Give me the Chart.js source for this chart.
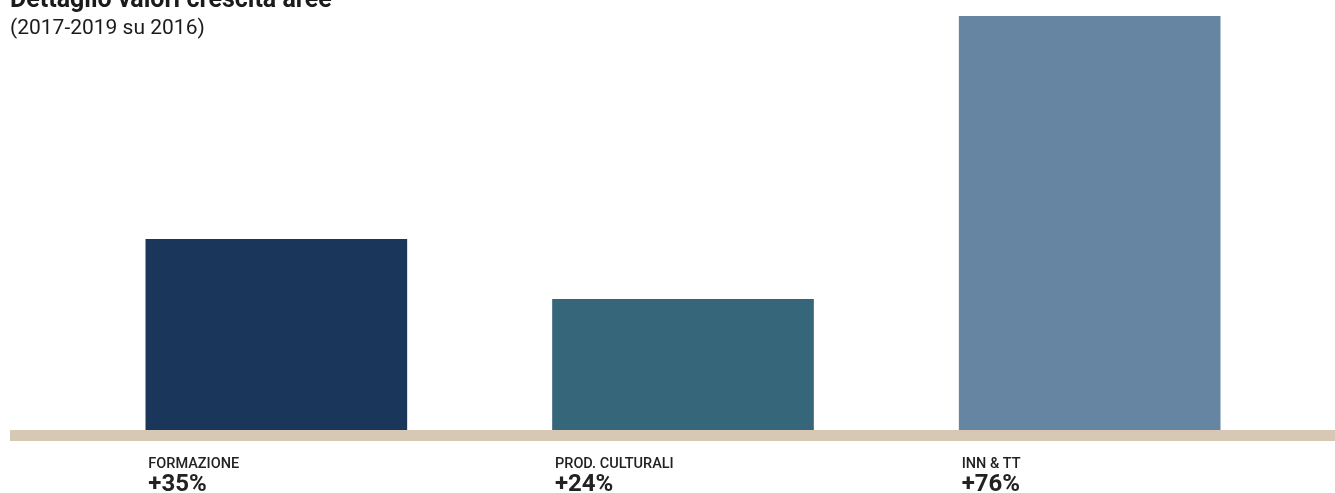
<!DOCTYPE html>
<html>
<head>
<meta charset="utf-8">
<script src="https://cdn.jsdelivr.net/npm/chart.js@4"></script>
<style>
    html, body { margin: 0; padding: 0; background: #fff; overflow: hidden; }
    #wrap { position: relative; width: 1335px; height: 493px; }
    #title { position: absolute; left: 10px; top: -14px; font: bold 25px Roboto, sans-serif; line-height: 25px; color: #1b1b1b; white-space: nowrap; }
    #subtitle { position: absolute; left: 10px; top: 17px; font: 21px Roboto, sans-serif; line-height: 21px; color: #1b1b1b; white-space: nowrap; }
    canvas { position: absolute; left: 0; top: 0; }
</style>
</head>
<body>
<div id="wrap">
    <canvas id="chart" width="1335" height="493"></canvas>
    <div id="title">Dettaglio valori crescita aree</div>
    <div id="subtitle">(2017-2019 su 2016)</div>
</div>
<script>
const categories = ["FORMAZIONE", "PROD. CULTURALI", "INN & TT"];
const growth = [35, 24, 76];
const valueLabels = ["+35%", "+24%", "+76%"];
const barColors = ["#1a365a", "#356679", "#6685a3"];


// beige base band + labels under each bar
const baseAndLabels = {
    id: 'baseAndLabels',
    afterDatasetsDraw(chart) {
        const ctx = chart.ctx;
        const y0 = chart.scales.y.getPixelForValue(0);
        ctx.save();
        ctx.fillStyle = '#d6c8b4';
        ctx.fillRect(10, y0, chart.width - 10, 11);

        const x = chart.scales.x;
        ctx.fillStyle = '#222';
        ctx.textAlign = 'left';
        ctx.textBaseline = 'alphabetic';
        for (let i = 0; i < categories.length; i++) {
            let left = x.getPixelForValue(i) - 128;
            ctx.font = '500 14.5px Roboto, sans-serif';
            ctx.fillText(categories[i], left, y0 + 38);
            ctx.font = 'bold 24px Roboto, sans-serif';
            ctx.fillText(valueLabels[i], left, y0 + 61);
        }
        ctx.restore();
    }
};


new Chart(document.getElementById('chart'), {
    type: 'bar',
    data: {
        labels: categories,
        datasets: [{
            data: growth,
            backgroundColor: barColors,
            borderWidth: 0,
            barThickness: 261
        }]
    },
    options: {
        responsive: false,
        animation: false,
        layout: {
            padding: { top: 16, bottom: 63, left: 73, right: 42 }
        },
        plugins: {
            legend: { display: false },
            tooltip: { enabled: false }
        },
        scales: {
            x: { display: false },
            y: { display: false, min: 0, max: 76 }
        }
    },
    plugins: [baseAndLabels]
});
</script>
</body>
</html>
